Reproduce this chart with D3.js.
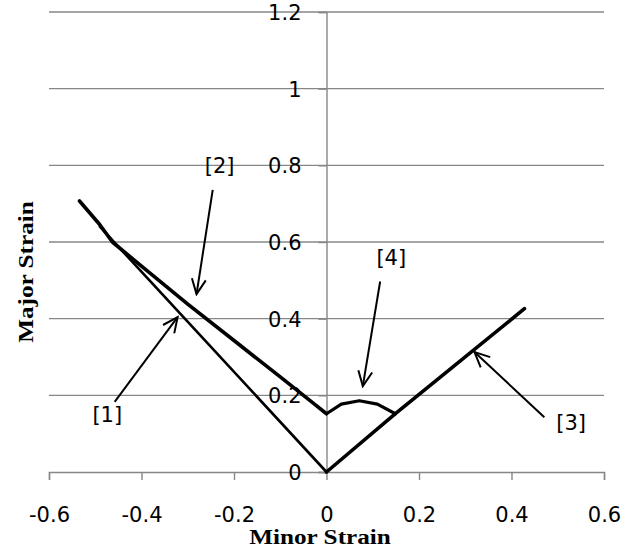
<!DOCTYPE html>
<html>
<head>
<meta charset="utf-8">
<script src="https://cdn.jsdelivr.net/npm/d3@7"></script>
<style>
    body { margin: 0; background: #fff; }
</style>
</head>
<body>
<div id="chart"></div>
<script>

// axis ticks
const xTicks = [-0.6, -0.4, -0.2, 0, 0.2, 0.4, 0.6];
const yTicks = [0, 0.2, 0.4, 0.6, 0.8, 1, 1.2];

// curve [1]
const curve1X = [-0.49, 0];
const curve1Y = [0.64, 0];

// curve [2]
const curve2X = [-0.534, -0.49, -0.463, -0.4, -0.3, -0.2, -0.1, -0.026, 0];
const curve2Y = [0.707, 0.645, 0.6, 0.537, 0.438, 0.343, 0.248, 0.177, 0.152];

// curve [3]
const curve3X = [0, 0.149, 0.428];
const curve3Y = [0, 0.152, 0.426];

// curve [4]
const curve4X = [0, 0.032, 0.071, 0.11, 0.149];
const curve4Y = [0.152, 0.177, 0.186, 0.177, 0.152];

// annotations
const annLabels = ["[1]", "[2]", "[3]", "[4]"];
const annLabelX = [-0.474, -0.231, 0.529, 0.14];
const annLabelY = [0.149, 0.798, 0.128, 0.558];
const annTailX = [-0.458, -0.246, 0.471, 0.116];
const annTailY = [0.183, 0.736, 0.143, 0.497];
const annHeadX = [-0.322, -0.281, 0.32, 0.0785];
const annHeadY = [0.404, 0.464, 0.313, 0.224];

const width = 630, height = 554;
const margin = {top: 12, right: 26, bottom: 82, left: 49};
const labelFont = "'DejaVu Sans', sans-serif";
const titleFont = "'Liberation Serif', 'Times New Roman', serif";

const svg = d3.select("#chart").append("svg")
    .attr("width", width)
    .attr("height", height);

const xScale = d3.scaleLinear()
    .domain([-0.6, 0.6])
    .range([margin.left, width - margin.right]);

const yScale = d3.scaleLinear()
    .domain([0, 1.2])
    .range([height - margin.bottom, margin.top]);

const gray = "#878787";
const fmt = d => d3.format("~g")(d).replace("\u2212", "-");

// horizontal gridlines
svg.append("g")
    .selectAll("line")
    .data(yTicks.filter(d => d !== 0))
    .join("line")
    .attr("x1", xScale(-0.6))
    .attr("x2", xScale(0.6))
    .attr("y1", d => yScale(d))
    .attr("y2", d => yScale(d))
    .attr("stroke", gray)
    .attr("stroke-width", 1.4);

// x axis at y = 0
const xAxis = d3.axisBottom(xScale)
    .tickValues(xTicks)
    .tickSize(8)
    .tickFormat(fmt);

const xg = svg.append("g")
    .attr("transform", `translate(0,${yScale(0)})`)
    .call(xAxis);
xg.select(".domain").attr("stroke", gray).attr("stroke-width", 1.4);
xg.selectAll(".tick line").attr("stroke", gray).attr("stroke-width", 1.4);
xg.selectAll(".tick text")
    .attr("y", 50)
    .attr("dy", null)
    .style("font-family", labelFont)
    .style("font-size", "21px")
    .style("fill", "#000");

// y axis at x = 0
const yAxis = d3.axisLeft(yScale)
    .tickValues(yTicks)
    .tickSize(8)
    .tickFormat(fmt);

const yg = svg.append("g")
    .attr("transform", `translate(${xScale(0)},0)`)
    .call(yAxis);
yg.select(".domain").attr("stroke", gray).attr("stroke-width", 1.4);
yg.selectAll(".tick line").attr("stroke", gray).attr("stroke-width", 1.4);
yg.selectAll(".tick text")
    .attr("x", -25)
    .attr("dy", "0.35em")
    .style("font-family", labelFont)
    .style("font-size", "21px")
    .style("fill", "#000");

// curves
const line = d3.line()
    .x(d => xScale(d[0]))
    .y(d => yScale(d[1]));

const curves = [
    {xs: curve1X, ys: curve1Y, w: 2.6},
    {xs: curve2X, ys: curve2Y, w: 3.6},
    {xs: curve3X, ys: curve3Y, w: 3.6},
    {xs: curve4X, ys: curve4Y, w: 3.2}
];

curves.forEach(c => {
    svg.append("path")
        .datum(d3.zip(c.xs, c.ys))
        .attr("fill", "none")
        .attr("stroke", "#000")
        .attr("stroke-width", c.w)
        .attr("stroke-linejoin", "round")
        .attr("stroke-linecap", "round")
        .attr("d", line);
});

// arrow marker (open V head)
svg.append("defs").append("marker")
    .attr("id", "arrow")
    .attr("viewBox", "-16 -8 18 16")
    .attr("refX", 0)
    .attr("refY", 0)
    .attr("markerWidth", 18)
    .attr("markerHeight", 16)
    .attr("markerUnits", "userSpaceOnUse")
    .attr("orient", "auto")
    .append("path")
    .attr("d", "M-15,-7L0,0L-15,7")
    .attr("fill", "none")
    .attr("stroke", "#000")
    .attr("stroke-width", 2);

svg.append("g")
    .selectAll("line")
    .data(annLabels.map((d, i) => i))
    .join("line")
    .attr("x1", i => xScale(annTailX[i]))
    .attr("y1", i => yScale(annTailY[i]))
    .attr("x2", i => xScale(annHeadX[i]))
    .attr("y2", i => yScale(annHeadY[i]))
    .attr("stroke", "#000")
    .attr("stroke-width", 2)
    .attr("marker-end", "url(#arrow)");

svg.append("g")
    .selectAll("text")
    .data(annLabels)
    .join("text")
    .attr("x", (d, i) => xScale(annLabelX[i]))
    .attr("y", (d, i) => yScale(annLabelY[i]))
    .attr("text-anchor", "middle")
    .attr("dy", "0.35em")
    .style("font-family", labelFont)
    .style("font-size", "21px")
    .style("fill", "#000")
    .text(d => d);

// axis titles
svg.append("text")
    .attr("text-anchor", "middle")
    .attr("transform", "translate(320,544) scale(1.2,1)")
    .style("font-family", titleFont)
    .style("font-size", "21px")
    .style("font-weight", "bold")
    .text("Minor Strain");

svg.append("text")
    .attr("text-anchor", "middle")
    .attr("transform", "translate(33,272) rotate(-90) scale(1.2,1)")
    .style("font-family", titleFont)
    .style("font-size", "21px")
    .style("font-weight", "bold")
    .text("Major Strain");

</script>
</body>
</html>
